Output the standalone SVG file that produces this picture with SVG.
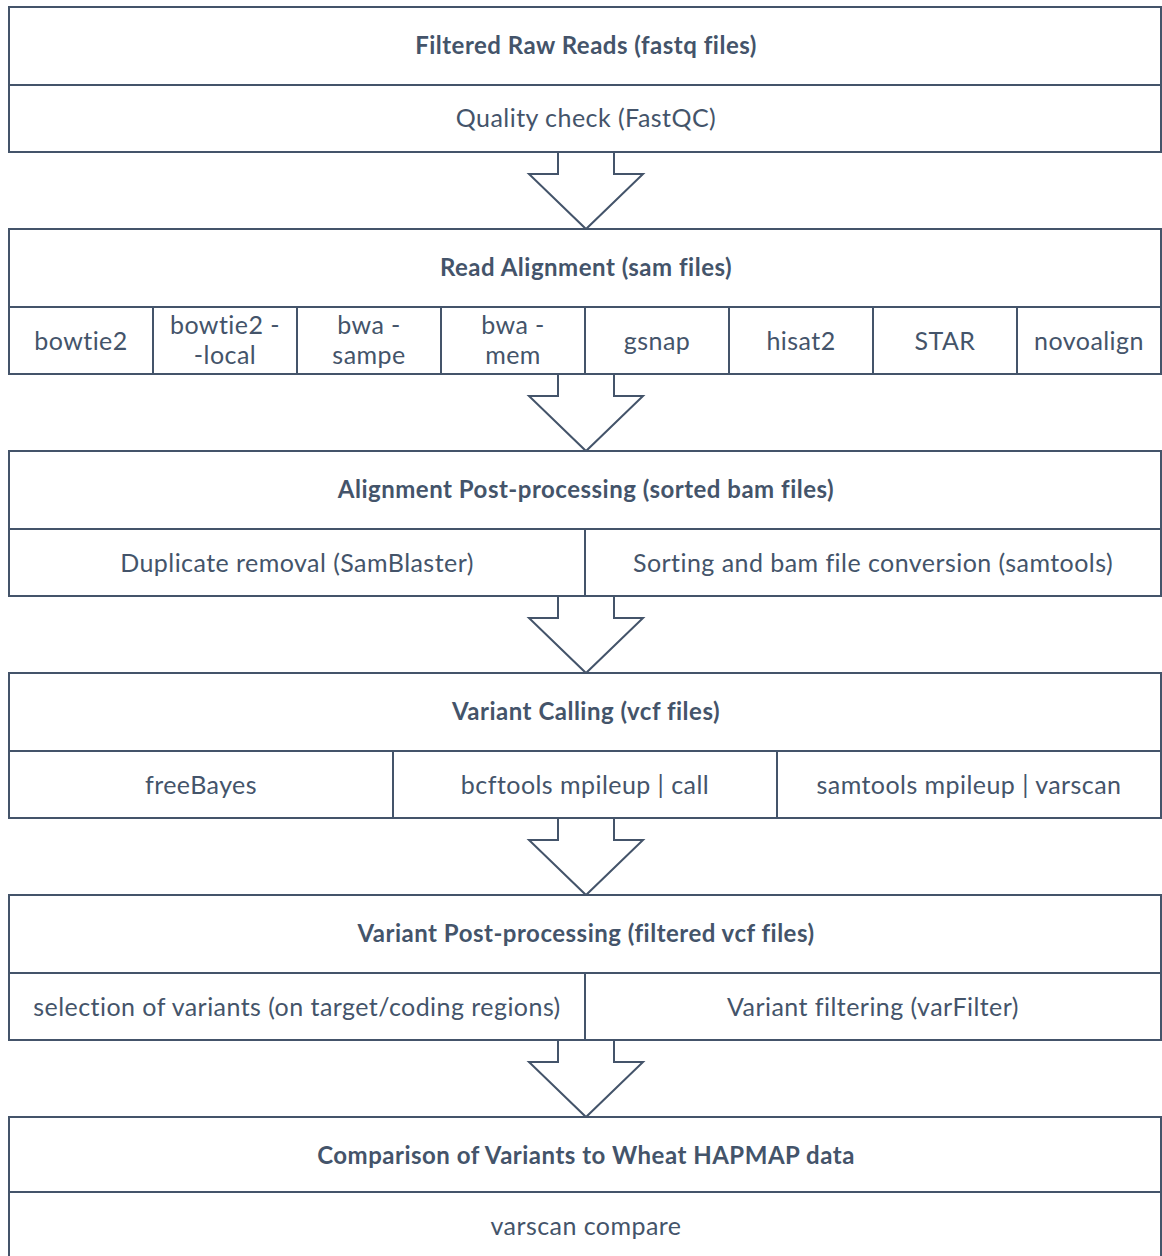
<svg xmlns="http://www.w3.org/2000/svg" width="1162" height="1256" viewBox="0 0 1162 1256">
<style>
.b{fill:#fff;stroke:#44546A;stroke-width:2}
.l{stroke:#44546A;stroke-width:2;fill:none}
.a{fill:#fff;stroke:#44546A;stroke-width:2;stroke-linejoin:miter}
text{font-family:Lato,"Open Sans","Liberation Sans",sans-serif;fill:#44546A;text-anchor:middle;font-variant-ligatures:none}
.h{font-weight:bold;font-size:24px;letter-spacing:0.5px}
.t{font-size:25px;letter-spacing:0.45px}
</style>
<rect width="1162" height="1256" fill="#fff"/>
<g id="connectors">
<polygon class="a" points="558,152 558,174 529,174 586,229 643,174 614,174 614,152"/>
<polygon class="a" points="558,374 558,396 529,396 586,451 643,396 614,396 614,374"/>
<polygon class="a" points="558,596 558,618 529,618 586,673 643,618 614,618 614,596"/>
<polygon class="a" points="558,818 558,840 529,840 586,895 643,840 614,840 614,818"/>
<polygon class="a" points="558,1040 558,1062 529,1062 586,1117 643,1062 614,1062 614,1040"/>
</g>
<g id="n1">
<rect class="b" x="9" y="7" width="1152" height="145"/>
<line class="l" x1="9" y1="85" x2="1161" y2="85"/>
<text class="h" x="586" y="54">Filtered Raw Reads (fastq files)</text>
<text class="t" x="586" y="127">Quality check (FastQC)</text>
</g>
<g id="n2">
<rect class="b" x="9" y="229" width="1152" height="145"/>
<line class="l" x1="9" y1="307" x2="1161" y2="307"/>
<line class="l" x1="153" y1="307" x2="153" y2="374"/>
<line class="l" x1="297" y1="307" x2="297" y2="374"/>
<line class="l" x1="441" y1="307" x2="441" y2="374"/>
<line class="l" x1="585" y1="307" x2="585" y2="374"/>
<line class="l" x1="729" y1="307" x2="729" y2="374"/>
<line class="l" x1="873" y1="307" x2="873" y2="374"/>
<line class="l" x1="1017" y1="307" x2="1017" y2="374"/>
<text class="h" x="586" y="276">Read Alignment (sam files)</text>
<text class="t" x="81" y="350">bowtie2</text>
<text class="t" x="225" y="334">bowtie2 -</text>
<text class="t" x="225" y="364">-local</text>
<text class="t" x="369" y="334">bwa -</text>
<text class="t" x="369" y="364">sampe</text>
<text class="t" x="513" y="334">bwa -</text>
<text class="t" x="513" y="364">mem</text>
<text class="t" x="657" y="350">gsnap</text>
<text class="t" x="801" y="350">hisat2</text>
<text class="t" x="945" y="350">STAR</text>
<text class="t" x="1089" y="350">novoalign</text>
</g>
<g id="n3">
<rect class="b" x="9" y="451" width="1152" height="145"/>
<line class="l" x1="9" y1="529" x2="1161" y2="529"/>
<line class="l" x1="585" y1="529" x2="585" y2="596"/>
<text class="h" x="586" y="498">Alignment Post-processing (sorted bam files)</text>
<text class="t" x="297" y="572">Duplicate removal (SamBlaster)</text>
<text class="t" x="873" y="572">Sorting and bam file conversion (samtools)</text>
</g>
<g id="n4">
<rect class="b" x="9" y="673" width="1152" height="145"/>
<line class="l" x1="9" y1="751" x2="1161" y2="751"/>
<line class="l" x1="393" y1="751" x2="393" y2="818"/>
<line class="l" x1="777" y1="751" x2="777" y2="818"/>
<text class="h" x="586" y="720">Variant Calling (vcf files)</text>
<text class="t" x="201" y="794">freeBayes</text>
<text class="t" x="585" y="794">bcftools mpileup | call</text>
<text class="t" x="969" y="794">samtools mpileup | varscan</text>
</g>
<g id="n5">
<rect class="b" x="9" y="895" width="1152" height="145"/>
<line class="l" x1="9" y1="973" x2="1161" y2="973"/>
<line class="l" x1="585" y1="973" x2="585" y2="1040"/>
<text class="h" x="586" y="942">Variant Post-processing (filtered vcf files)</text>
<text class="t" x="297" y="1016">selection of variants (on target/coding regions)</text>
<text class="t" x="873" y="1016">Variant filtering (varFilter)</text>
</g>
<g id="n6">
<rect class="b" x="9" y="1117" width="1152" height="145"/>
<line class="l" x1="9" y1="1192" x2="1161" y2="1192"/>
<text class="h" x="586" y="1164">Comparison of Variants to Wheat HAPMAP data</text>
<text class="t" x="586" y="1235">varscan compare</text>
</g>
</svg>
